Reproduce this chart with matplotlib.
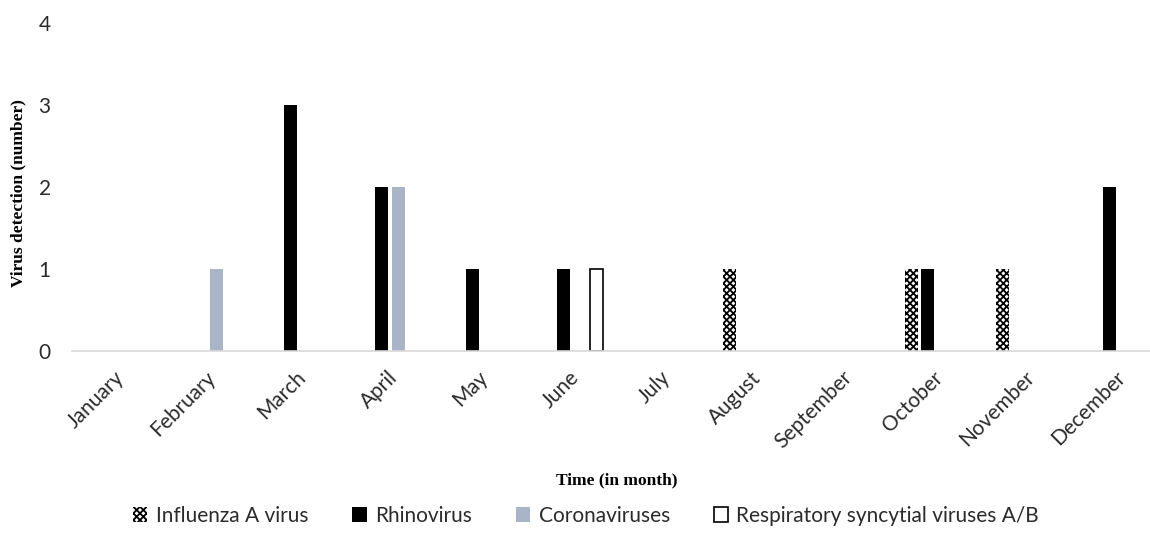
import numpy as np
import matplotlib
matplotlib.use("Agg")
import matplotlib.pyplot as plt
import matplotlib.transforms as mtransforms
from matplotlib.patches import Patch

# --- Data ---
months = ["January", "February", "March", "April", "May", "June", "July",
          "August", "September", "October", "November", "December"]
influenza = [0, 0, 0, 0, 0, 0, 0, 1, 0, 1, 1, 0]
rhinovirus = [0, 0, 3, 2, 1, 1, 0, 0, 0, 1, 0, 2]
coronavirus = [0, 1, 0, 2, 0, 0, 0, 0, 0, 0, 0, 0]
rsv = [0, 0, 0, 0, 0, 1, 0, 0, 0, 0, 0, 0]

series = [
    ("Influenza A virus", influenza, dict(facecolor="white", edgecolor="black", hatch="xxxxx", linewidth=0)),
    ("Rhinovirus", rhinovirus, dict(facecolor="black", edgecolor="black", linewidth=0)),
    ("Coronaviruses", coronavirus, dict(facecolor="#a9b4c6", edgecolor="#a9b4c6", linewidth=0)),
    ("Respiratory syncytial viruses A/B", rsv, dict(facecolor="white", edgecolor="black", linewidth=1.2)),
]

plt.rcParams["hatch.linewidth"] = 1.3
plt.rcParams["font.family"] = ["Lato", "DejaVu Sans"]

W, H = 1150, 533
fig = plt.figure(figsize=(W / 100, H / 100), dpi=100)
# axes runs a bit past the right edge like the cropped original
ax = fig.add_axes([71.5 / W, (H - 351) / H, 1092 / W, 328 / H])

x = np.arange(len(months))
width = 0.143
step = 0.181
handles = []
for i, (name, vals, style) in enumerate(series):
    vals = np.array(vals)
    idx = np.nonzero(vals)[0]
    off = (i - 1.5) * step
    ax.bar(x[idx] + off, vals[idx], width, **style)
    handles.append(Patch(label=name, **style))

ax.set_xlim(-0.5, 11.5)
ax.set_ylim(0, 4)
ax.set_yticks(range(5))
ax.set_xticks(x)
ax.set_xticklabels(months, rotation=45, ha="right", rotation_mode="anchor", va="center")
ax.tick_params(axis="y", length=0, pad=15, labelsize=15, labelcolor="#2b2b2b")
ax.tick_params(axis="x", length=0, pad=17, labelsize=15, labelcolor="#2b2b2b")
shift = mtransforms.ScaledTranslation(4 / 100, 0, fig.dpi_scale_trans)
for lbl in ax.get_xticklabels():
    lbl.set_transform(lbl.get_transform() + shift)
for s in ["top", "right", "left"]:
    ax.spines[s].set_visible(False)
ax.spines["bottom"].set_color("#d9d9d9")
ax.spines["bottom"].set_linewidth(1.2)

fig.text(18 / W, 1 - 193 / H, "Virus detection (number)", rotation=90, ha="center", va="center",
         family="Liberation Serif", fontweight="bold", fontsize=12.5)
fig.text(617 / W, 1 - 480 / H, "Time (in month)", ha="center", va="center",
         family="Liberation Serif", fontweight="bold", fontsize=12.5)

fig.legend(handles=handles, loc="center", bbox_to_anchor=(586 / W, 1 - 516 / H), ncol=4,
           frameon=False, fontsize=15, handlelength=0.7, handleheight=0.7,
           handletextpad=0.4, columnspacing=2.1, labelcolor="#2b2b2b")

fig.savefig("out.png", dpi=100)
